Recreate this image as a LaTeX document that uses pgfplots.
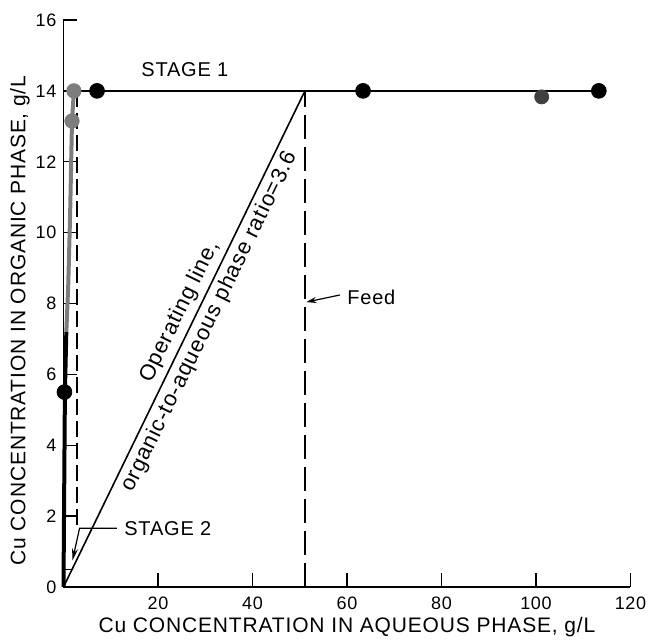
\documentclass[border=0pt]{standalone}
\usepackage{fontspec}
\setmainfont{Liberation Sans}[LetterSpace=4]
\usepackage{pgfplots}
\pgfplotsset{compat=1.18}
\usetikzlibrary{arrows.meta}
\definecolor{eqgray}{RGB}{125,125,125}
\begin{document}
\begin{tikzpicture}
\useasboundingbox (-31.75pt,-26.5pt) rectangle (292.75pt,293.5pt);
\begin{axis}[
  at={(0,0)}, anchor=south west,
  scale only axis, width=283.5pt, height=283.5pt,
  xmin=0, xmax=120, ymin=0, ymax=16,
  axis lines=left, axis line style={-, line width=0.8pt},
  xtick={20,40,...,120}, ytick={0,2,...,16},
  tick align=inside, major tick length=7pt,
  tick style={black, line width=0.7pt},
  ticklabel style={font=\fontsize{9}{10}\selectfont},
  xticklabel style={yshift=-1.5pt},
  /pgf/number format/assume math mode=true,
  xlabel={Cu CONCENTRATION IN AQUEOUS PHASE, g/L},
  ylabel={Cu CONCENTRATION IN ORGANIC PHASE, g/L},
  xlabel style={at={(axis description cs:0.5,-0.07)}, anchor=center, font=\fontsize{10.5}{12}\selectfont},
  ylabel style={at={(axis description cs:-0.077,0.47)}, anchor=center, font=\fontsize{10.5}{12}\selectfont},
  clip=false,
]
% stage 1 equilibrium line
\addplot[black, line width=1pt] coordinates {(2.2,14) (113.3,14)};
% operating line
\addplot[black, line width=0.8pt] coordinates {(0,0) (51.1,14)};
% feed line
\addplot[black, line width=0.8pt, dash pattern=on 12pt off 4pt] coordinates {(51.1,0) (51.1,14)};
% stage 2 equilibrium curve
\addplot[black, line width=2pt] coordinates {(0,0) (0.3,5.5) (0.6,7.2)};
\addplot[eqgray, line width=2pt] coordinates {(0.6,7.2) (1.0,8.5) (1.4,10.5) (1.8,13.15) (2.2,14)};
% stage 2 step
\addplot[black, line width=0.8pt, dash pattern=on 8pt off 3pt] coordinates {(2.9,14) (2.9,1.6)};
\addplot[black, line width=0.6pt] coordinates {(0.1,0.5) (1.8,0.5)};
% data points
\addplot[only marks, mark=*, mark size=3.7pt, black] coordinates {(7.1,14) (63.4,14) (113.3,14) (0.2,5.5)};
\addplot[only marks, mark=*, mark size=3.5pt, black!75] coordinates {(101.2,13.83)};
\addplot[only marks, mark=*, mark size=3.6pt, eqgray, mark options={fill=eqgray}] coordinates {(2.2,14) (1.8,13.15)};
% annotations
\node[anchor=west, font=\fontsize{10}{12}\selectfont, inner sep=0pt] at (axis cs:16.4,14.6) {STAGE 1};
\node[anchor=west, font=\fontsize{10}{12}\selectfont, inner sep=0pt] at (axis cs:12.8,1.66) {STAGE 2};
\draw[line width=0.6pt, -{Stealth[length=6pt, width=3pt, fill=eqgray]}] (axis cs:11.3,1.66) -- (axis cs:3.4,1.66) -- (axis cs:1.9,0.75);
\node[anchor=west, font=\fontsize{10}{12}\selectfont, inner sep=0pt] at (axis cs:60,8.18) {Feed};
\draw[line width=0.6pt, -{Stealth[length=5pt, width=3pt, open]}] (axis cs:58.5,8.24) -- (axis cs:51.4,8.04);
\node[rotate=64, anchor=south, inner sep=2.5pt, font=\fontsize{11}{12}\selectfont] at (axis cs:27.6,7.57) {Operating line,};
\node[rotate=64, anchor=north, inner sep=2.5pt, font=\fontsize{11}{12}\selectfont] at (axis cs:28.0,7.68) {organic-to-aqueous phase ratio=3.6};
\end{axis}
\end{tikzpicture}
\end{document}
